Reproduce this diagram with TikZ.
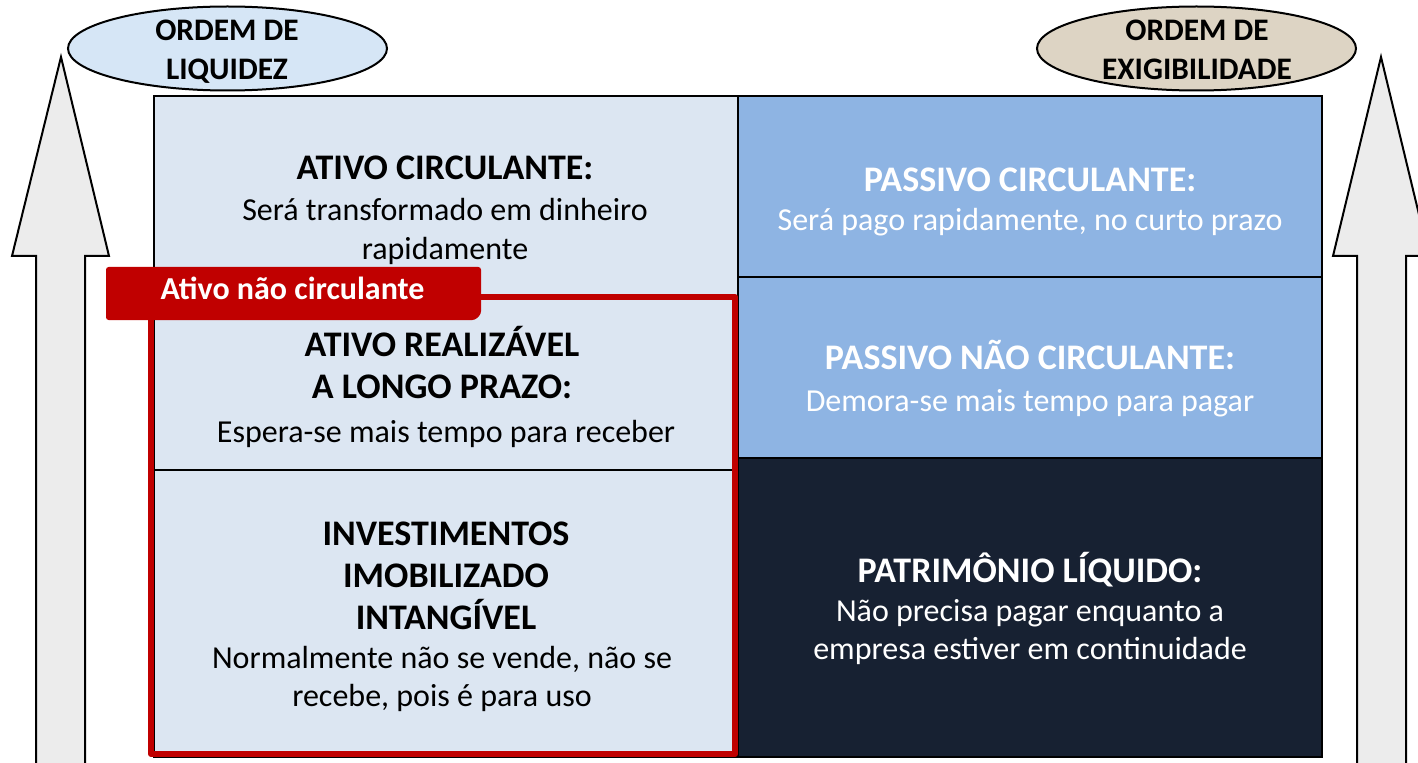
\documentclass[tikz,border=0pt]{standalone}
\usepackage{fontspec}
\setmainfont{Carlito}

\definecolor{ativofill}{HTML}{DCE6F2}
\definecolor{passivofill}{HTML}{8EB4E3}
\definecolor{plfill}{HTML}{172132}
\definecolor{ancred}{HTML}{C00000}
\definecolor{liqfill}{HTML}{D6E6F6}
\definecolor{exigfill}{HTML}{DDD4C4}
\definecolor{setafill}{HTML}{ECECEC}

\tikzset{every picture/.style={line width=0.75pt}}
\tikzset{
  blocktitle/.style={anchor=base,inner sep=0.75pt,align=center,font=\bfseries\fontsize{27}{31.5}\selectfont},
  blocktext/.style={anchor=base,inner sep=0.75pt,align=center,font=\fontsize{24}{28.5}\selectfont},
  ordemtext/.style={anchor=base,inner sep=0.75pt,align=center,font=\bfseries\fontsize{23.5}{29.5}\selectfont},
}

\begin{document}
\begin{tikzpicture}[x=0.75pt,y=0.75pt,yscale=-1,xscale=1]
\useasboundingbox (0,0) rectangle (1418,763);

%Shape: Rectangle [id:dp1403] 
\draw  [fill=ativofill,line width=1.5pt]  (154,96) -- (738,96) -- (738,757) -- (154,757) -- cycle ;
%Straight Lines [id:da2217] 
\draw  [line width=1.5pt]  (154,470) -- (735,470) ;
%Shape: Rectangle [id:dp5061] 
\draw  [fill=passivofill,line width=1.5pt]  (738,96) -- (1322,96) -- (1322,277) -- (738,277) -- cycle ;
%Shape: Rectangle [id:dp5062] 
\draw  [fill=passivofill,line width=1.5pt]  (738,277) -- (1322,277) -- (1322,458) -- (738,458) -- cycle ;
%Shape: Rectangle [id:dp5063] 
\draw  [fill=plfill,line width=1.5pt]  (738,458) -- (1322,458) -- (1322,757) -- (738,757) -- cycle ;
%Shape: Rectangle [id:dp7710] 
\draw  [color=ancred,line width=4.5pt,line join=round]  (151,297) -- (735,297) -- (735,754) -- (151,754) -- cycle ;
%Shape: Tab [id:dp7711] 
\draw  [fill=ancred,draw=none,rounded corners=2]  (106,267) -- (481,267) -- (481,314) -- (475,320) -- (106,320) -- cycle ;

%Shape: Ellipse [id:dp3190] 
\draw  [fill=liqfill,line width=1.5pt]  (227.5,48.5) ellipse (159.5 and 42) ;
%Shape: Ellipse [id:dp3191] 
\draw  [fill=exigfill,line width=1.5pt]  (1196.5,48.5) ellipse (159.5 and 42) ;
%Shape: Up Arrow [id:dp8824] 
\draw  [fill=setafill,line width=1.5pt]  (61,57) -- (109,256) -- (85,256) -- (85,775) -- (36,775) -- (36,256) -- (12,256) -- cycle ;
%Shape: Up Arrow [id:dp8825] 
\draw  [fill=setafill,line width=1.5pt]  (1381,57) -- (1429,256) -- (1406,256) -- (1406,775) -- (1357,775) -- (1357,256) -- (1333,256) -- cycle ;

% Text Node
\draw (227,80) node [ordemtext] (liquidez) {ORDEM DE\\LIQUIDEZ};
% Text Node
\draw (1197,80) node [ordemtext] (exigibilidade) {ORDEM DE\\EXIGIBILIDADE};
% Text Node
\draw (292.5,300) node [anchor=base,inner sep=0.75pt,text=white,font=\bfseries\fontsize{24}{28}\selectfont] (anc) {Ativo não circulante};
% Text Node
\draw (445,180) node [blocktitle] (ac) {ATIVO CIRCULANTE:};
% Text Node
\draw (445,259) node [blocktext] (actext) {Será transformado em dinheiro\\rapidamente};
% Text Node
\draw (442,398) node [blocktitle] (arlp) {ATIVO REALIZÁVEL\\A LONGO PRAZO:};
% Text Node
\draw (446,442) node [blocktext] (arlptext) {Espera-se mais tempo para receber};
% Text Node
\draw (446,629) node [blocktitle] (inv) {INVESTIMENTOS\\IMOBILIZADO\\INTANGÍVEL};
% Text Node
\draw (442,706) node [blocktext] (invtext) {Normalmente não se vende, não se\\recebe, pois é para uso};
% Text Node
\draw (1030,192) node [blocktitle,text=white] (pc) {PASSIVO CIRCULANTE:};
% Text Node
\draw (1030,231) node [blocktext,text=white] (pctext) {Será pago rapidamente, no curto prazo};
% Text Node
\draw (1030,369) node [blocktitle,text=white] (pnc) {PASSIVO NÃO CIRCULANTE:};
% Text Node
\draw (1030,411) node [blocktext,text=white] (pnctext) {Demora-se mais tempo para pagar};
% Text Node
\draw (1030,582) node [blocktitle,text=white] (pl) {PATRIMÔNIO LÍQUIDO:};
% Text Node
\draw (1030,659) node [blocktext,text=white] (pltext) {Não precisa pagar enquanto a\\empresa estiver em continuidade};

\end{tikzpicture}
\end{document}
